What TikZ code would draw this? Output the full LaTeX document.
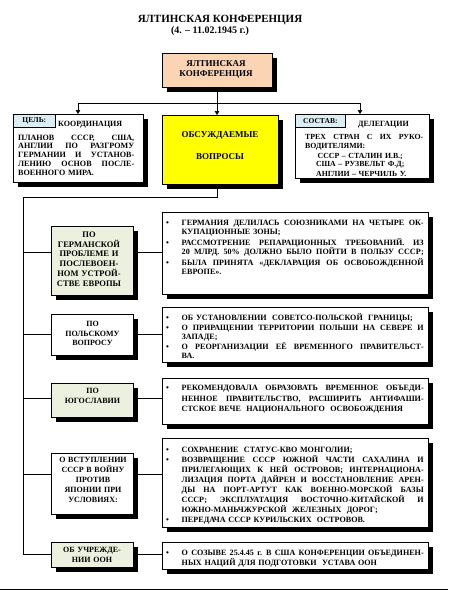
\documentclass[tikz,border=0pt]{standalone}
\usepackage{fontspec}
\setmainfont{Liberation Serif}
\usetikzlibrary{shadows,arrows.meta,calc,backgrounds}
\definecolor{peach}{HTML}{FBD4B4}
\definecolor{tabblue}{HTML}{DAEEF3}
\definecolor{lgreen}{HTML}{EBF1DE}
\definecolor{yel}{HTML}{FFFF00}
\newlength\bwd \newlength\twd
\setlength\bwd{15.5pt}\setlength\twd{242pt}
\newcommand\sr{\rule{0pt}{7pt}}
\newcommand\jbox[2]{\hbox to #1{\spaceskip=0.25em plus 4em minus 0.15em\relax #2}}
\newcommand\lbox[2]{\hbox to #1{#2\hfil}}
\newcommand\bJ[1]{\par\noindent\sr\hbox to\bwd{\textbullet\hfil}\jbox{\twd}{#1}}
\newcommand\bL[1]{\par\noindent\sr\hbox to\bwd{\textbullet\hfil}\lbox{\twd}{#1}}
\newcommand\cJ[1]{\par\noindent\sr\hbox to\bwd{}\jbox{\twd}{#1}}
\newcommand\cL[1]{\par\noindent\sr\hbox to\bwd{}\lbox{\twd}{#1}}
\newcommand\gJ[2]{\par\noindent\sr\jbox{#1}{#2}}
\newcommand\gL[2]{\par\noindent\sr\lbox{#1}{#2}}
\newcommand\gC[2]{\par\noindent\sr\hbox to #1{\hfil#2\hfil}}
\newcommand\ig[1]{\par\vspace{#1}}
\tikzset{
  conn/.style={line width=0.7pt},
  arr/.style={line width=0.7pt,-{Triangle[length=4pt,width=4.5pt]}},
  shad/.style={drop shadow={shadow xshift=4.5pt,shadow yshift=-4.5pt,opacity=1,fill=black}},
  box/.style={draw=black,line width=0.7pt,inner sep=0pt,outer sep=0pt,anchor=north west,shad},
  tabbox/.style={draw=black,line width=0.7pt,inner sep=0pt,anchor=north west,fill=tabblue,font=\fontsize{7.5}{9}\selectfont\bfseries},
  rtxt/.style={inner sep=0pt,anchor=north west,text width=257.5pt},
  ltxt/.style={inner sep=0pt,anchor=north,text width=82pt,align=center},
  ctxt/.style={inner sep=0pt,anchor=north,align=center},
  btxt/.style={inner sep=0pt,anchor=north west},
}
\begin{document}
\begin{tikzpicture}[x=1pt,y=-1pt]
\useasboundingbox (0,0) rectangle (448,590);
% title
\node[anchor=base,inner sep=0pt,font=\fontsize{11}{13}\selectfont\bfseries] (title) at (220,22) {ЯЛТИНСКАЯ КОНФЕРЕНЦИЯ};
\node[anchor=base,inner sep=0pt,font=\fontsize{10}{12}\selectfont\bfseries] (date) at (210,33.5) {(4. – 11.02.1945 г.)};
% coordinates
\coordinate (j1) at (217,103);
\coordinate (jl) at (78,103);
\coordinate (jr) at (360,103);
\coordinate (j2) at (217,197);
\coordinate (j3) at (23,197);
\coordinate (c1) at (23,252);
\coordinate (c2) at (23,334);
\coordinate (c3) at (23,398);
\coordinate (c4) at (23,474);
\coordinate (c5) at (23,554);
\coordinate (bl) at (0,589);
\coordinate (br) at (448,589);
% boxes
\node[box,fill=peach,minimum width=110pt,minimum height=34pt] (yk) at (162,53) {};
\node[box,fill=white,minimum width=130pt,minimum height=68pt] (cel) at (13,114) {};
\node[box,fill=yel,minimum width=116pt,minimum height=69pt] (yelb) at (162,115) {};
\node[box,fill=white,minimum width=134pt,minimum height=64pt] (sos) at (295,114) {};
\node[box,fill=lgreen,minimum width=82pt,minimum height=69pt] (L1) at (51,226) {};
\node[box,fill=white,minimum width=266pt,minimum height=82pt] (R1) at (162,212) {};
\node[box,fill=white,minimum width=82pt,minimum height=41pt] (L2) at (51,314) {};
\node[box,fill=white,minimum width=266pt,minimum height=55pt] (R2) at (162,307) {};
\node[box,fill=lgreen,minimum width=82pt,minimum height=34pt] (L3) at (51,383) {};
\node[box,fill=white,minimum width=266pt,minimum height=46pt] (R3) at (162,378) {};
\node[box,fill=white,minimum width=82pt,minimum height=61pt] (L4) at (51,453) {};
\node[box,fill=white,minimum width=266pt,minimum height=89pt] (R4) at (162,438) {};
\node[box,fill=lgreen,minimum width=82pt,minimum height=25pt] (L5) at (51,542) {};
\node[box,fill=white,minimum width=266pt,minimum height=27pt] (R5) at (162,542) {};
% connectors (behind boxes)
\begin{scope}[on background layer]
\draw[conn] (yk.south) -- (j1);
\draw[conn] (jl) -- (jr);
\draw[arr] (jl) -- (cel.north);
\draw[arr] (j1) -- (j1 |- yelb.north);
\draw[arr] (jr) -- (jr |- sos.north);
\draw[conn] (j1 |- yelb.south) -- (j2) -- (j3) -- (c5);
\foreach \k in {1,...,5}{
  \draw[conn] (c\k) -- (c\k -| L\k.west);
  \draw[conn] (c\k -| L\k.east) -- (c\k -| R\k.west);
}
\end{scope}
\draw[line width=1pt] (bl) -- (br);
% tabs
\node[tabbox,minimum width=42pt,minimum height=13pt] (tabc) at (13,114) {ЦЕЛЬ:};
\node[tabbox,minimum width=50pt,minimum height=13pt] (tabs) at (295,114) {СОСТАВ:};
% texts
\node[ctxt,font=\fontsize{9}{10}\selectfont\bfseries] (ykt) at (216,59) {\sr ЯЛТИНСКАЯ\\КОНФЕРЕНЦИЯ};
\node[ctxt,font=\fontsize{9}{22}\selectfont\bfseries] (yelt) at (220,130) {\sr ОБСУЖДАЕМЫЕ\\ВОПРОСЫ};
\node[anchor=base west,inner sep=0pt,font=\fontsize{8}{9}\selectfont\bfseries] (koord) at (58,126) {КООРДИНАЦИЯ};
\node[anchor=base west,inner sep=0pt,font=\fontsize{8}{9}\selectfont\bfseries] (deleg) at (358,126) {ДЕЛЕГАЦИИ};
\node[btxt,text width=116pt,font=\fontsize{8.1}{8.8}\selectfont\bfseries] (celt) at (18,131) {%
\gJ{116pt}{ПЛАНОВ СССР, США,}\gJ{116pt}{АНГЛИИ ПО РАЗГРОМУ}\gJ{116pt}{ГЕРМАНИИ И УСТАНОВ-}\gJ{116pt}{ЛЕНИЮ ОСНОВ ПОСЛЕ-}\gL{116pt}{ВОЕННОГО  МИРА.}};
\node[btxt,text width=118pt,font=\fontsize{7.8}{8.6}\selectfont\bfseries] (sost) at (305,131) {%
\gJ{118pt}{ТРЕХ СТРАН С ИХ РУКО-}\gL{118pt}{ВОДИТЕЛЯМИ:}\gC{110pt}{СССР – СТАЛИН И.В.;}\gC{110pt}{США – РУЗВЕЛЬТ Ф.Д;}\gC{112pt}{АНГЛИИ – ЧЕРЧИЛЬ У.}};
% left texts
\node[ltxt,font=\fontsize{8.5}{9.8}\selectfont\bfseries] (L1t) at (89,230) {\sr ПО\\ГЕРМАНСКОЙ\\ПРОБЛЕМЕ И\\ПОСЛЕВОЕН-\\НОМ УСТРОЙ-\\СТВЕ ЕВРОПЫ};
\node[ltxt,font=\fontsize{8}{9.8}\selectfont\bfseries] (L2t) at (92.5,319) {\sr ПО\\ПОЛЬСКОМУ\\ВОПРОСУ};
\node[ltxt,font=\fontsize{8}{10}\selectfont\bfseries] (L3t) at (92.5,386) {\sr ПО\\ЮГОСЛАВИИ};
\node[ltxt,font=\fontsize{8}{10}\selectfont\bfseries] (L4t) at (93,455) {\sr О ВСТУПЛЕНИИ\\СССР В ВОЙНУ\\ПРОТИВ\\ЯПОНИИ ПРИ\\УСЛОВИЯХ:};
\node[ltxt,font=\fontsize{8}{10}\selectfont\bfseries] (L5t) at (92,545) {\sr ОБ УЧРЕЖДЕ-\\НИИ ООН};
% right texts
\node[rtxt,font=\fontsize{8.1}{9}\selectfont\bfseries] (R1t) at (166,216) {%
\bJ{ГЕРМАНИЯ ДЕЛИЛАСЬ СОЮЗНИКАМИ НА ЧЕТЫРЕ ОК-}
\cL{КУПАЦИОННЫЕ  ЗОНЫ;}\ig{2pt}
\bJ{РАССМОТРЕНИЕ РЕПАРАЦИОННЫХ ТРЕБОВАНИЙ. ИЗ}
\cJ{20 МЛРД. 50\% ДОЛЖНО БЫЛО ПОЙТИ В ПОЛЬЗУ СССР;}\ig{2pt}
\bJ{БЫЛА ПРИНЯТА «ДЕКЛАРАЦИЯ ОБ ОСВОБОЖДЕННОЙ}
\cL{ЕВРОПЕ».}};
\node[rtxt,font=\fontsize{8.1}{9.2}\selectfont\bfseries] (R2t) at (166,311) {%
\bL{ОБ УСТАНОВЛЕНИИ \ СОВЕТСО-ПОЛЬСКОЙ \ ГРАНИЦЫ;}\ig{0.8pt}
\bJ{О ПРИРАЩЕНИИ ТЕРРИТОРИИ ПОЛЬШИ НА СЕВЕРЕ И}
\cL{ЗАПАДЕ;}\ig{0.8pt}
\bJ{О РЕОРГАНИЗАЦИИ ЕЁ ВРЕМЕННОГО ПРАВИТЕЛЬСТ-}
\cL{ВА.}};
\node[rtxt,font=\fontsize{8.1}{10.5}\selectfont\bfseries] (R3t) at (166,380) {%
\bJ{РЕКОМЕНДОВАЛА ОБРАЗОВАТЬ ВРЕМЕННОЕ ОБЪЕДИ-}
\cJ{НЕННОЕ ПРАВИТЕЛЬСТВО, РАСШИРИТЬ АНТИФАШИ-}
\cL{СТСКОЕ ВЕЧЕ \ НАЦИОНАЛЬНОГО \ ОСВОБОЖДЕНИЯ}};
\node[rtxt,font=\fontsize{8.1}{10}\selectfont\bfseries] (R4t) at (166,442.5) {%
\bL{СОХРАНЕНИЕ \ СТАТУС-КВО МОНГОЛИИ;}
\bJ{ВОЗВРАЩЕНИЕ СССР ЮЖНОЙ ЧАСТИ САХАЛИНА И}
\cJ{ПРИЛЕГАЮЩИХ К НЕЙ ОСТРОВОВ; ИНТЕРНАЦИОНА-}
\cJ{ЛИЗАЦИЯ ПОРТА ДАЙРЕН И ВОССТАНОВЛЕНИЕ АРЕН-}
\cJ{ДЫ НА ПОРТ-АРТУТ КАК ВОЕННО-МОРСКОЙ БАЗЫ}
\cJ{СССР; ЭКСПЛУАТАЦИЯ ВОСТОЧНО-КИТАЙСКОЙ И}
\cL{ЮЖНО-МАНЬЧЖУРСКОЙ \ ЖЕЛЕЗНЫХ \ ДОРОГ;}
\bL{ПЕРЕДАЧА СССР КУРИЛЬСКИХ \ ОСТРОВОВ.}};
\node[rtxt,font=\fontsize{8.1}{9.5}\selectfont\bfseries] (R5t) at (166,546) {%
\bJ{О СОЗЫВЕ 25.4.45 г. В США КОНФЕРЕНЦИИ ОБЪЕДИНЕН-}
\cL{НЫХ НАЦИЙ ДЛЯ ПОДГОТОВКИ \ УСТАВА ООН}};
\end{tikzpicture}
\end{document}
